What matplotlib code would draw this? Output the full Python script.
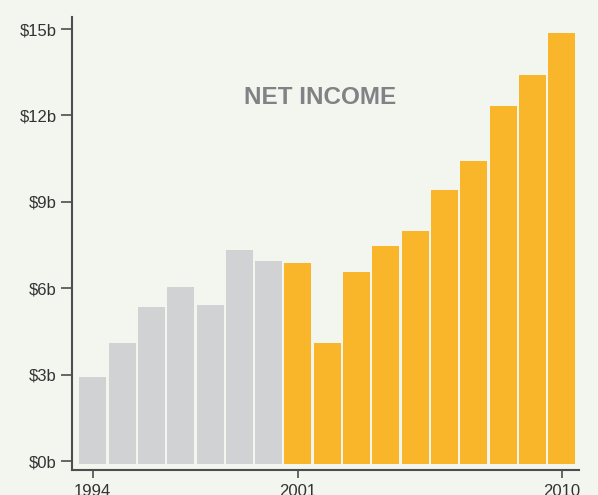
import matplotlib
matplotlib.use("Agg")
import matplotlib.pyplot as plt

# Ingreso neto por año (miles de millones)
years = list(range(1994, 2011))
net_income = [2.92, 4.10, 5.35, 6.04, 5.42, 7.33, 6.94,
              6.88, 4.10, 6.56, 7.47, 7.99, 9.41, 10.42, 12.33, 13.40, 14.86]
y_ticks = [0, 3, 6, 9, 12, 15]
y_labels = ["$0b", "$3b", "$6b", "$9b", "$12b", "$15b"]
x_ticks = [1994, 2001, 2010]

bg = "#f3f5ef"
gris = "#d1d2d4"
naranja = "#f9b62b"
eje = "#4d4d4d"

colores = [gris if y < 2001 else naranja for y in years]

fig = plt.figure(figsize=(5.98, 4.95), dpi=100, facecolor=bg)
ax = fig.add_axes([0.1204, 0.0505, 0.8478, 0.9152], facecolor=bg)

ax.bar(years, [v + 0.09 for v in net_income], bottom=-0.09, width=0.92,
       color=colores, edgecolor="none")

ax.set_xlim(1993.29, 2010.59)
ax.set_ylim(-0.31, 15.42)

ax.set_yticks(y_ticks)
ax.set_yticklabels(y_labels)
ax.set_xticks(x_ticks)
ax.set_xticklabels([str(x) for x in x_ticks])

fuente = ["Liberation Sans", "DejaVu Sans"]
for lab in ax.get_xticklabels() + ax.get_yticklabels():
    lab.set_family(fuente)
    lab.set_fontsize(12)
    lab.set_color("#333333")

ax.tick_params(axis="y", direction="out", length=8, width=1.2, color=eje, pad=3)
ax.tick_params(axis="x", direction="out", length=6, width=1.2, color=eje, pad=4)

for s in ["top", "right"]:
    ax.spines[s].set_visible(False)
for s in ["left", "bottom"]:
    ax.spines[s].set_color(eje)
    ax.spines[s].set_linewidth(1.5)

ax.text(320 / 598, 1 - 98 / 495, "NET INCOME", transform=fig.transFigure,
        ha="center", va="center", fontsize=17.5, fontweight="bold",
        color="#808285", family=fuente)

fig.savefig("out.png", dpi=100, facecolor=bg)
